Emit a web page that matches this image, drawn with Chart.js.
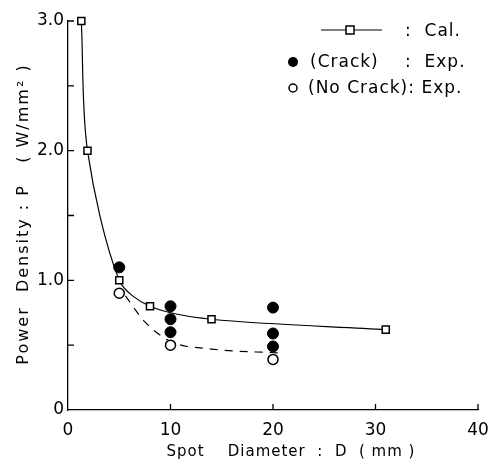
<!DOCTYPE html>
<html>
<head>
<meta charset="utf-8">
<script src="https://cdn.jsdelivr.net/npm/chart.js@4/dist/chart.umd.min.js"></script>
<style>
  html, body { margin: 0; padding: 0; background: #fff; }
  #wrap { width: 490px; height: 464px; }
</style>
</head>
<body>
<div id="wrap"><canvas id="grafico" width="490" height="464"></canvas></div>
<script>
// valores
const calD = [1.3, 1.9, 5, 8, 14, 31];
const calP = [3.0, 2.0, 1.0, 0.8, 0.7, 0.62];

const crackD = [5, 10, 10, 10, 20, 20, 20];
const crackP = [1.1, 0.8, 0.7, 0.6, 0.79, 0.59, 0.49];

const noCrackD = [5, 10, 20];
const noCrackP = [0.9, 0.5, 0.39];

// curva tracejada (limite sem trinca)
const limiteD = [5.6, 7.5, 10, 14, 20.5];
const limiteP = [0.88, 0.68, 0.53, 0.47, 0.44];

const xTicks = [0, 10, 20, 30, 40];
const yTicks = [0, 0.5, 1.0, 1.5, 2.0, 2.5, 3.0];

const FONTE = '"DejaVu Sans", sans-serif';

function pares(xs, ys) {
    return xs.map((x, i) => ({ x: x, y: ys[i] }));
}

// ticks para dentro, títulos dos eixos e legenda
const desenhoExtra = {
    id: 'desenhoExtra',
    afterDraw(chart) {
        const ctx = chart.ctx;
        const xs = chart.scales.x, ys = chart.scales.y;
        const area = chart.chartArea;
        ctx.save();
        ctx.strokeStyle = '#000';
        ctx.lineWidth = 1.3;
        ctx.beginPath();
        xTicks.forEach(v => {
            if (v === 0) return;
            const px = xs.getPixelForValue(v);
            ctx.moveTo(px, area.bottom);
            ctx.lineTo(px, area.bottom - 6);
        });
        yTicks.forEach(v => {
            if (v === 0) return;
            const py = ys.getPixelForValue(v);
            ctx.moveTo(area.left, py);
            ctx.lineTo(area.left + 6, py);
        });
        ctx.stroke();

        // títulos
        ctx.fillStyle = '#000';
        ctx.font = '15px ' + FONTE;
        ctx.letterSpacing = '1px';
        ctx.textAlign = 'center';
        ctx.textBaseline = 'middle';
        ctx.fillText('Spot    Diameter  :  D  ( mm )', 291, 452);
        ctx.save();
        ctx.font = '16px ' + FONTE;
        ctx.letterSpacing = '2px';
        ctx.translate(24, 214);
        ctx.rotate(-Math.PI / 2);
        ctx.fillText('Power  Density : P   ( W/mm² )', 0, 0);
        ctx.restore();

        // legenda
        ctx.font = '17px ' + FONTE;
        ctx.letterSpacing = '1px';
        ctx.textAlign = 'left';
        ctx.lineWidth = 1.2;
        ctx.beginPath();
        ctx.moveTo(321, 30);
        ctx.lineTo(382, 30);
        ctx.stroke();
        ctx.fillStyle = '#fff';
        ctx.fillRect(346, 26, 8, 8);
        ctx.lineWidth = 1.5;
        ctx.strokeRect(346, 26, 8, 8);
        ctx.fillStyle = '#000';
        ctx.fillText(':  Cal.', 405, 32);

        ctx.beginPath();
        ctx.arc(293, 62, 5, 0, Math.PI * 2);
        ctx.fill();
        ctx.fillText('(Crack)', 310, 63);
        ctx.fillText(':  Exp.', 405, 63);

        ctx.beginPath();
        ctx.arc(293, 88, 4, 0, Math.PI * 2);
        ctx.stroke();
        ctx.fillText('(No Crack): Exp.', 308, 89);
        ctx.restore();
    }
};

const ctxGrafico = document.getElementById('grafico').getContext('2d');
new Chart(ctxGrafico, {
    type: 'scatter',
    data: {
        datasets: [
            {
                label: 'Cal.',
                data: pares(calD, calP),
                showLine: true,
                tension: 0.3,
                borderColor: '#000',
                borderWidth: 1.2,
                pointStyle: 'rect',
                pointRadius: 5,
                pointBackgroundColor: '#fff',
                pointBorderColor: '#000',
                pointBorderWidth: 1.5,
                clip: false,
                order: 2
            },
            {
                label: 'limite',
                data: pares(limiteD, limiteP),
                showLine: true,
                cubicInterpolationMode: 'monotone',
                borderColor: '#000',
                borderWidth: 1.2,
                borderDash: [8, 7],
                pointRadius: 0,
                clip: false,
                order: 3
            },
            {
                label: '(Crack) : Exp.',
                data: pares(crackD, crackP),
                pointStyle: 'circle',
                pointRadius: 5.5,
                pointBackgroundColor: '#000',
                pointBorderColor: '#000',
                clip: false,
                order: 1
            },
            {
                label: '(No Crack) : Exp.',
                data: pares(noCrackD, noCrackP),
                pointStyle: 'circle',
                pointRadius: 5,
                pointBackgroundColor: '#fff',
                pointBorderColor: '#000',
                pointBorderWidth: 1.5,
                clip: false,
                order: 0
            }
        ]
    },
    options: {
        responsive: false,
        animation: false,
        layout: { padding: { top: 21, right: 12, left: 0, bottom: 0 } },
        plugins: {
            legend: { display: false },
            tooltip: { enabled: false }
        },
        scales: {
            x: {
                type: 'linear',
                min: 0,
                max: 40,
                afterFit: s => { s.height = 54; s.paddingLeft = 0; s.paddingRight = 0; },
                afterBuildTicks: s => { s.ticks = xTicks.map(v => ({ value: v })); },
                grid: { display: false, drawTicks: false },
                border: { display: true, color: '#000', width: 1.3 },
                ticks: {
                    color: '#000',
                    padding: 10,
                    font: { family: FONTE, size: 17 },
                    maxRotation: 0
                }
            },
            y: {
                type: 'linear',
                min: 0,
                max: 3,
                afterFit: s => { s.width = 68; s.paddingTop = 0; s.paddingBottom = 0; },
                afterBuildTicks: s => { s.ticks = yTicks.map(v => ({ value: v })); },
                grid: { display: false, drawTicks: false },
                border: { display: true, color: '#000', width: 1.3 },
                ticks: {
                    color: '#000',
                    padding: 4,
                    font: { family: FONTE, size: 17 },
                    callback: v => v === 0 ? '0' : (v % 1 === 0 ? v.toFixed(1) : '')
                }
            }
        }
    },
    plugins: [desenhoExtra]
});
</script>
</body>
</html>
